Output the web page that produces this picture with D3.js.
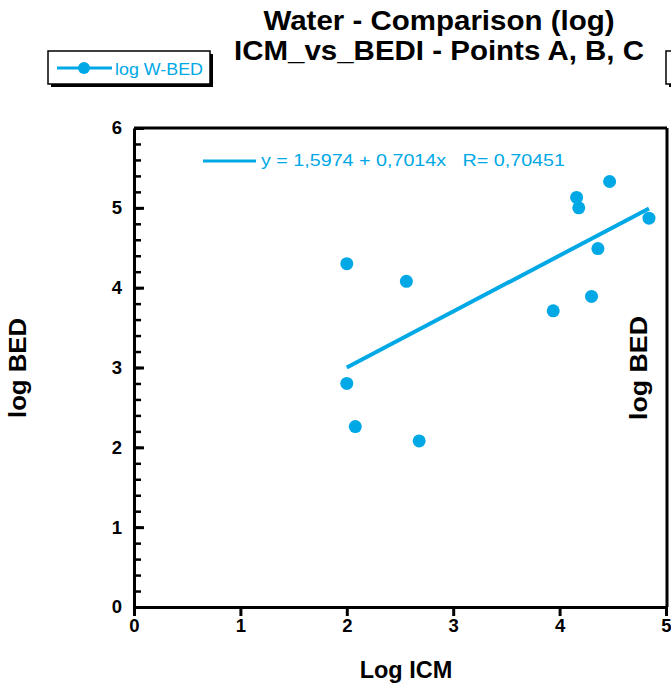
<!DOCTYPE html>
<html lang="en">
<head>
    <meta charset="UTF-8">
    <title>Water - Comparison (log)</title>
    <script src="https://d3js.org/d3.v7.min.js"></script>
    <style>
        body { margin: 0; background: #fff; }
        svg { display: block; font-family: "Liberation Sans", Arial, sans-serif; }
        .axis path, .axis line { stroke: #000; }
    </style>
</head>
<body>
    <svg width="671" height="693"></svg>
    <script>
        // Log ICM (x) and log BED (y), points A, B, C
        const icm = [2.00, 2.00, 2.08, 2.56, 2.68, 3.94, 4.16, 4.18, 4.30, 4.36, 4.47, 4.84];
        const bed = [4.30, 2.80, 2.26, 4.08, 2.08, 3.71, 5.13, 5.00, 3.89, 4.49, 5.33, 4.87];
        // fit reported on the chart
        const fitA = 1.5974, fitB = 0.7014;
        const fitLabel = "y = 1,5974 + 0,7014x   R= 0,70451";
        const xTicks = [0, 1, 2, 3, 4, 5];
        const yTicks = [0, 1, 2, 3, 4, 5, 6];

        const blue = "#00a8e6";
        const font = "'Liberation Sans', Arial, sans-serif";
        const svg = d3.select("svg");

        const pLeft = 134, pRight = 666, pTop = 128, pBottom = 607;
        const x = d3.scaleLinear().domain([0, 5]).range([pLeft, pRight]);
        const y = d3.scaleLinear().domain([0, 6]).range([pBottom, pTop]);

        // title
        svg.append("text")
            .attr("x", 439).attr("y", 30)
            .attr("text-anchor", "middle")
            .attr("font-weight", "bold").attr("font-size", 27)
            .attr("textLength", 351).attr("lengthAdjust", "spacingAndGlyphs")
            .text("Water - Comparison (log)");
        svg.append("text")
            .attr("x", 439).attr("y", 60)
            .attr("text-anchor", "middle")
            .attr("font-weight", "bold").attr("font-size", 27)
            .attr("textLength", 410).attr("lengthAdjust", "spacingAndGlyphs")
            .text("ICM_vs_BEDI - Points A, B, C");

        // legend boxes (second one cut off at the right edge)
        function legendBox(bx, by, bw, bh) {
            svg.append("rect").attr("x", bx + 3).attr("y", by + 3)
                .attr("width", bw).attr("height", bh).attr("fill", "#000");
            svg.append("rect").attr("x", bx).attr("y", by)
                .attr("width", bw).attr("height", bh)
                .attr("fill", "#fff").attr("stroke", "#000").attr("stroke-width", 1.5);
        }
        legendBox(48, 51, 162, 33);
        legendBox(666, 51, 60, 33);
        svg.append("line").attr("x1", 57).attr("x2", 112).attr("y1", 68).attr("y2", 68)
            .attr("stroke", blue).attr("stroke-width", 3);
        svg.append("circle").attr("cx", 84).attr("cy", 68).attr("r", 6).attr("fill", blue);
        svg.append("text").attr("x", 115).attr("y", 75)
            .attr("font-size", 17).attr("fill", blue)
            .attr("textLength", 88).attr("lengthAdjust", "spacingAndGlyphs")
            .text("log W-BED");

        // frame top + right
        svg.append("line").attr("x1", pLeft).attr("x2", pRight + 1).attr("y1", pTop).attr("y2", pTop)
            .attr("stroke", "#000").attr("stroke-width", 3);
        svg.append("line").attr("x1", pRight + 1).attr("x2", pRight + 1).attr("y1", pTop).attr("y2", pBottom)
            .attr("stroke", "#000").attr("stroke-width", 3);

        // y minor ticks
        var gMinor = svg.append("g").attr("class", "axis")
            .attr("transform", "translate(" + pLeft + ",0)")
            .call(d3.axisLeft(y).tickValues(d3.range(0, 6.01, 0.2)).tickSize(-7).tickFormat(""));
        gMinor.select(".domain").remove();
        gMinor.selectAll("line").attr("stroke-width", 2.5);

        // y axis
        var gy = svg.append("g").attr("class", "axis")
            .attr("transform", "translate(" + pLeft + ",0)")
            .call(d3.axisLeft(y).tickValues(yTicks).tickSize(-10).tickSizeOuter(0).tickPadding(12).tickFormat(d3.format("d")));
        gy.select(".domain").attr("stroke-width", 3);
        gy.selectAll(".tick line").attr("stroke-width", 3);

        // x axis
        var gx = svg.append("g").attr("class", "axis")
            .attr("transform", "translate(0," + pBottom + ")")
            .call(d3.axisBottom(x).tickValues(xTicks).tickSize(9).tickSizeOuter(0).tickPadding(3).tickFormat(d3.format("d")));
        gx.select(".domain").attr("stroke-width", 3);
        gx.selectAll(".tick line").attr("stroke-width", 3);

        svg.selectAll(".axis").attr("font-family", font).attr("font-size", 18.5).attr("font-weight", "bold");
        svg.selectAll(".axis text").attr("fill", "#000");

        // axis titles
        svg.append("text").attr("x", 406).attr("y", 678)
            .attr("text-anchor", "middle").attr("font-weight", "bold").attr("font-size", 23.5)
            .text("Log ICM");
        svg.append("text")
            .attr("transform", "translate(26,368)rotate(-90)")
            .attr("text-anchor", "middle").attr("font-weight", "bold").attr("font-size", 24)
            .attr("textLength", 100).attr("lengthAdjust", "spacingAndGlyphs")
            .text("log BED");
        svg.append("text")
            .attr("transform", "translate(647,368)rotate(-90)")
            .attr("text-anchor", "middle").attr("font-weight", "bold").attr("font-size", 24)
            .attr("textLength", 104).attr("lengthAdjust", "spacingAndGlyphs")
            .text("log BED");

        // fit line
        var xmin = d3.min(icm), xmax = d3.max(icm);
        svg.append("line")
            .attr("x1", x(xmin)).attr("y1", y(fitA + fitB * xmin))
            .attr("x2", x(xmax)).attr("y2", y(fitA + fitB * xmax))
            .attr("stroke", blue).attr("stroke-width", 4);

        // points
        svg.append("g").selectAll("circle")
            .data(icm.map((d, i) => [d, bed[i]]))
            .enter().append("circle")
            .attr("cx", d => x(d[0]))
            .attr("cy", d => y(d[1]))
            .attr("r", 6.5)
            .attr("fill", blue);

        // fit label
        svg.append("line").attr("x1", 203).attr("x2", 256).attr("y1", 161).attr("y2", 161)
            .attr("stroke", blue).attr("stroke-width", 3);
        svg.append("text").attr("x", 261).attr("y", 166)
            .attr("font-size", 16.5).attr("fill", blue)
            .style("white-space", "pre")
            .attr("textLength", 304).attr("lengthAdjust", "spacingAndGlyphs")
            .text(fitLabel);
    </script>
</body>
</html>
